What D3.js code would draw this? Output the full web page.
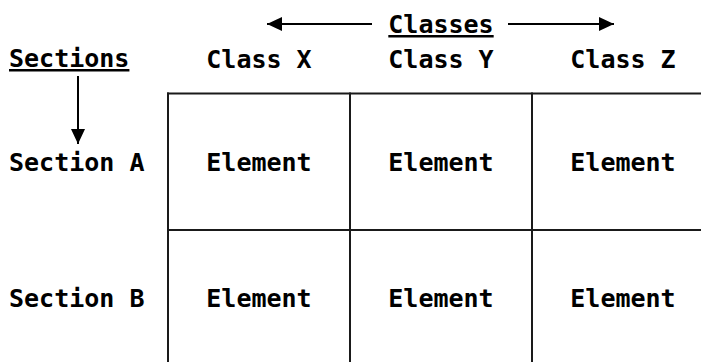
<!DOCTYPE html>
<html>
<head>
<meta charset="utf-8">
<script src="https://cdn.jsdelivr.net/npm/d3@7"></script>
<style>
  body { margin: 0; background: #fff; }
  text { font-family: "DejaVu Sans Mono", monospace; font-weight: bold; font-size: 25px; fill: #000; }
</style>
</head>
<body>
<div id="chart"></div>
<script>
// chart content
const classes = ["Class X", "Class Y", "Class Z"];
const sections = ["Section A", "Section B"];
const cellLabel = "Element";
const classesTitle = "Classes";
const sectionsTitle = "Sections";

const width = 701;
const height = 362;

const svg = d3.select("#chart")
    .append("svg")
    .attr("width", width)
    .attr("height", height);

// grid runs past the right and bottom edges
const x = d3.scaleBand().domain(classes).range([168, 714]);
const y = d3.scaleBand().domain(sections).range([93.5, 366.5]);

const defs = svg.append("defs");
defs.append("marker")
    .attr("id", "head")
    .attr("markerUnits", "userSpaceOnUse")
    .attr("viewBox", "0 0 15 14")
    .attr("refX", 15).attr("refY", 7)
    .attr("markerWidth", 15).attr("markerHeight", 14)
    .attr("orient", "auto")
    .append("path")
    .attr("d", "M0,0L15,7L0,14Z")
    .attr("fill", "#000");

const lineColor = "#1a1a1a";

// horizontal lines at top of each row
svg.selectAll(".hline")
    .data(sections)
    .enter().append("line")
    .attr("class", "hline")
    .attr("x1", x.range()[0] - 1)
    .attr("x2", width)
    .attr("y1", d => y(d))
    .attr("y2", d => y(d))
    .attr("stroke", lineColor)
    .attr("stroke-width", 2);

// vertical lines at left of each column
svg.selectAll(".vline")
    .data(classes)
    .enter().append("line")
    .attr("class", "vline")
    .attr("x1", d => x(d))
    .attr("x2", d => x(d))
    .attr("y1", y.range()[0] - 1)
    .attr("y2", height)
    .attr("stroke", lineColor)
    .attr("stroke-width", 2);

const capShift = 9;

// column headers
svg.selectAll(".colLabel")
    .data(classes)
    .enter().append("text")
    .attr("class", "colLabel")
    .attr("x", d => x(d) + x.bandwidth() / 2)
    .attr("y", 68)
    .attr("text-anchor", "middle")
    .text(d => d);

// row headers
svg.selectAll(".rowLabel")
    .data(sections)
    .enter().append("text")
    .attr("class", "rowLabel")
    .attr("x", 9)
    .attr("y", d => y(d) + y.bandwidth() / 2 + capShift)
    .text(d => d);

// cells
const cells = [];
sections.forEach(s => classes.forEach(c => cells.push({ s, c })));
svg.selectAll(".cell")
    .data(cells)
    .enter().append("text")
    .attr("class", "cell")
    .attr("x", d => x(d.c) + x.bandwidth() / 2)
    .attr("y", d => y(d.s) + y.bandwidth() / 2 + capShift)
    .attr("text-anchor", "middle")
    .text(cellLabel);

// titles
svg.append("text")
    .attr("x", 9)
    .attr("y", 67)
    .style("text-decoration", "underline")
    .text(sectionsTitle);

const midX = x(classes[1]) + x.bandwidth() / 2;
svg.append("text")
    .attr("x", midX)
    .attr("y", 33)
    .attr("text-anchor", "middle")
    .style("text-decoration", "underline")
    .text(classesTitle);

// arrows
svg.append("line")
    .attr("x1", 372).attr("y1", 24)
    .attr("x2", 267).attr("y2", 24)
    .attr("stroke", "#000").attr("stroke-width", 2)
    .attr("marker-end", "url(#head)");

svg.append("line")
    .attr("x1", 508).attr("y1", 24)
    .attr("x2", 614).attr("y2", 24)
    .attr("stroke", "#000").attr("stroke-width", 2)
    .attr("marker-end", "url(#head)");

svg.append("line")
    .attr("x1", 78).attr("y1", 76)
    .attr("x2", 78).attr("y2", 144)
    .attr("stroke", "#000").attr("stroke-width", 2)
    .attr("marker-end", "url(#head)");
</script>
</body>
</html>
